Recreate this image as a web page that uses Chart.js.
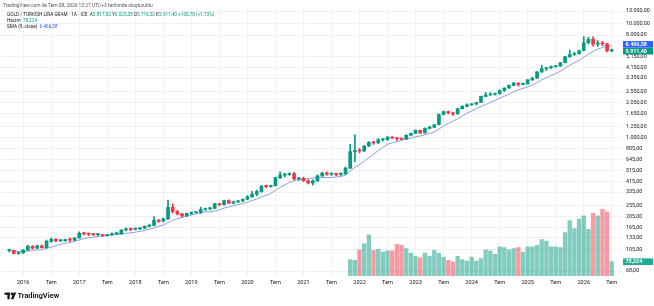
<!DOCTYPE html>
<html lang="tr">
<head>
<meta charset="utf-8">
<script src="https://cdn.jsdelivr.net/npm/chart.js@4.4.1/dist/chart.umd.min.js"></script>
<style>
  html, body { margin: 0; padding: 0; background: #fff; }
  #wrap { width: 654px; height: 306px; }
</style>
</head>
<body>
<div id="wrap"><canvas id="goldChart" width="654" height="306"></canvas></div>
<script>
// GOLD / TRY (gram), aylık mumlar: Eki 2015 -> Tem 2026 (index 0..129)
const opens = [103,103,97,98,104,112,108,113,109,124,129,125,126,128,127,133,146,144,143,142,
  142,139,141,144,144,156,160,158,160,162,168,171,190,186,195,247,226,216,207,218,
  222,222,236,239,241,264,260,283,268,275,280,290,304,322,339,376,374,381,449,473,
  477,487,437,443,422,404,420,465,492,482,484,479,486,545,760,775,769,851,914,905,
  966,970,1018,1000,988,977,1058,1097,1165,1109,1215,1245,1306,1607,1703,1659,1629,1804,1892,1957,
  1993,2050,2316,2382,2409,2453,2612,2744,2897,3026,2956,2987,3230,3345,3807,4070,4146,4227,4295,4568,
  5160,5405,5480,5850,6850,7350,6650,6800,6700,5817.52];
const highs = [106,104,100,105,115,114,115,115,127,133,131,129,130,133,134,150,149,147,146,145,
  143,143,147,149,157,163,162,163,164,170,176,205,193,198,285,265,232,218,220,225,
  226,248,243,247,269,266,285,287,280,283,293,312,340,350,385,386,386,455,505,490,
  495,500,452,455,430,430,476,500,505,492,492,495,555,880,1065,812,860,930,935,990,
  985,1030,1030,1010,1000,1070,1105,1180,1175,1230,1265,1320,1630,1720,1720,1680,1830,1920,1990,2010,
  2060,2330,2520,2500,2480,2640,2760,2920,3080,3040,3030,3250,3420,3830,4330,4150,4300,4330,4600,5200,
  5900,5650,5880,7740,7650,7700,7150,7050,6780,6025.35];
const lows = [100,96,95,97,103,106,107,108,108,122,123,123,124,123,125,132,141,139,140,139,
  137,138,140,142,143,154,154,156,157,160,166,170,182,184,193,220,212,203,205,213,
  219,218,232,235,240,253,258,265,264,272,277,288,302,310,335,365,370,378,440,455,
  470,428,425,415,395,385,415,460,470,470,465,470,477,540,620,740,760,840,880,895,
  940,950,985,950,960,970,1045,1090,1090,1100,1200,1235,1300,1590,1630,1580,1620,1790,1880,1930,
  1950,2045,2300,2360,2380,2420,2560,2720,2880,2850,2920,2980,3200,3330,3770,3900,4050,4180,4250,4550,
  5100,5300,5430,5800,6700,6400,6350,6450,5700,5716.52];
const closes = [103,97,98,104,112,108,113,109,124,129,125,126,128,127,133,146,144,143,142,142,
  139,141,144,144,156,160,158,160,162,168,171,190,186,195,247,226,216,207,218,222,
  222,236,239,241,264,260,283,268,275,280,290,304,322,339,376,374,381,449,473,477,
  487,437,443,422,404,420,465,492,482,484,479,486,545,760,775,769,851,914,905,966,
  970,1018,1000,988,977,1058,1097,1165,1109,1215,1245,1306,1607,1703,1659,1629,1804,1892,1957,1993,
  2050,2316,2382,2409,2453,2612,2744,2897,3026,2956,2987,3230,3345,3807,4070,4146,4227,4295,4568,5160,
  5405,5480,5850,6850,7350,6650,6800,6700,5810.62,5911.40];
// SMA (9, close) çizgisi
const sma = [103,102,101,101,102,103,104,105,107.6,110.4,113.6,116.7,119.3,121,123.8,127.4,131.3,133.4,134.9,136.8,
  138.2,139.7,141.6,142.8,143.9,145.7,147.3,149.3,151.6,154.8,158.1,163.2,167.9,172.2,181.9,189.4,195.7,200.7,206.2,211.9,
  215.4,221,225.9,225.2,229.4,234.3,242.8,248.3,254.2,260.7,266.7,273.9,282.9,291.2,304.1,314.2,326.8,346.1,367.6,388.3,
  408.7,421.4,433,438.1,441.4,445.8,447.6,449.7,450.2,449.9,454.6,459.3,473,512.6,552,585.8,625.7,673.7,720.4,774.6,
  828.3,880.9,907.6,931.2,954.3,977.3,997.7,1026.6,1042.4,1069.7,1094.9,1128.9,1197.7,1278.3,1345.1,1404.2,1475.2,1562.2,1644.7,1727.8,
  1810.4,1889.2,1964.7,2048,2139.6,2229.3,2324,2428.4,2543.2,2643.9,2718.4,2812.7,2916.7,3067.1,3229.1,3384.9,3532.7,3673.7,3852.8,4094.2,
  4335.9,4573.1,4800.1,5109,5465,5734.2,6012.6,6249.4,6380,6466.58];
// Hacim (K), Kas 2021'den itibaren
const volStart = 73;
const volume = [86,83,138,170,217,135,140,126,132,132,167,161,144,121,104,96,121,104,135,121,
  100,83,74,104,86,79,100,79,91,138,132,114,153,149,138,144,149,126,153,153,
  161,191,184,153,153,149,228,291,249,300,316,246,330,316,351,338,75.224];

// eksen etiketleri
const tickMonths = [3,9,15,21,27,33,39,45,51,57,63,69,75,81,87,93,99,105,111,117,123,129];
const tickLabels = ['2016','Tem','2017','Tem','2018','Tem','2019','Tem','2020','Tem','2021','Tem',
  '2022','Tem','2023','Tem','2024','Tem','2025','Tem','2026','Tem'];
const priceTicks = [68,105,133,165,205,255,335,415,515,645,805,1000,1250,1650,2050,2550,3350,4150,5150,8000,10000,13000];

const UP = '#089981', DOWN = '#f23645';
const VOL_UP = 'rgba(8,153,129,0.5)', VOL_DOWN = 'rgba(242,54,69,0.5)';
const GRID = '#eef0f4';
const FONT = 'Roboto, "Liberation Sans", sans-serif';

// price axis geometry: 10.000 sits at y=24, 114 px per decade
const REF_Y = 24, REF_P = 10000, PX_DECADE = 114;
const VOL_PER_PX = 5.26;

function trNum(v, d) {
    const parts = v.toFixed(d).split('.');
    const intPart = parts[0].replace(/\B(?=(\d{3})+(?!\d))/g, '.');
    return parts.length > 1 ? intPart + ',' + parts[1] : intPart;
}

const candleColors = closes.map((c, i) => c >= opens[i] ? UP : DOWN);

// =========================================================
// overlay: üst bilgi, sağ eksen etiketleri, logo
// =========================================================
const overlay = {
    id: 'overlay',
    afterDraw(chart) {
        const c = chart.ctx;
        const area = chart.chartArea;
        const y = chart.scales.y, yv = chart.scales.yVol;
        c.save();
        c.textBaseline = 'middle';

        // header
        c.font = '4.9px ' + FONT;
        c.fillStyle = '#50535e';
        c.fillText('TradingView.com ile Tem 08, 2026 13:27 UTC+3 tarihinde oluşturuldu', 3, 5.5);

        function runs(x, yy, parts) {
            parts.forEach(p => {
                c.fillStyle = p[1];
                c.fillText(p[0], x, yy);
                x += c.measureText(p[0]).width;
            });
        }
        c.font = '4.7px ' + FONT;
        const dark = '#131722';
        runs(7, 15, [
            ['GOLD / TURKISH LIRA GRAM · 1A · ICE  ', dark],
            ['A', dark], ['5.817,52 ', UP],
            ['Y', dark], ['6.025,35 ', UP],
            ['D', dark], ['5.716,52 ', UP],
            ['K', dark], ['5.911,40 ', UP],
            ['+100,78 (+1,73%)', UP]
        ]);
        runs(7, 20.8, [['Hacim  ', dark], ['75,224', UP]]);
        runs(7, 26.6, [['SMA (9, close)  ', dark], ['6.466,58', '#2962ff']]);

        // right axis tags
        const tags = [
            { v: y.getPixelForValue(sma[sma.length - 1]), t: trNum(sma[sma.length - 1], 2), col: '#2962ff' },
            { v: y.getPixelForValue(closes[closes.length - 1]), t: trNum(closes[closes.length - 1], 2), col: UP }
        ];
        if (tags[1].v - tags[0].v < 6.8) {
            const mid = (tags[0].v + tags[1].v) / 2;
            tags[0].v = mid - 3.4; tags[1].v = mid + 3.4;
        }
        tags.push({ v: yv.getPixelForValue(volume[volume.length - 1]), t: '75,224', col: '#22ab94' });
        c.font = 'bold 5.4px ' + FONT;
        tags.forEach(tg => {
            c.fillStyle = tg.col;
            c.fillRect(area.right + 1, tg.v - 3.3, 30, 6.6);
            c.fillStyle = '#fff';
            c.fillText(tg.t, area.right + 3.5, tg.v + 0.2);
        });

        // TradingView logo
        c.fillStyle = '#131722';
        c.fillRect(4.5, 292.6, 5.2, 2.2);
        c.fillRect(7.4, 292.6, 2.3, 6.6);
        c.beginPath();
        c.arc(11.9, 293.9, 1.3, 0, Math.PI * 2);
        c.fill();
        c.beginPath();
        c.moveTo(13.6, 292.6); c.lineTo(16.2, 292.6); c.lineTo(13.4, 299.2); c.lineTo(10.8, 299.2);
        c.closePath();
        c.fill();
        let fs = 9;
        c.font = 'bold ' + fs + 'px ' + FONT;
        while (c.measureText('TradingView').width > 42 && fs > 5) {
            fs -= 0.2;
            c.font = 'bold ' + fs + 'px ' + FONT;
        }
        c.fillText('TradingView', 17.5, 296.2);
        c.restore();
    }
};

const chart = new Chart(document.getElementById('goldChart'), {
    type: 'bar',
    data: {
        datasets: [
            {
                type: 'bar',
                label: 'Hacim',
                yAxisID: 'yVol',
                data: volume.map((v, k) => ({ x: volStart + k, y: v })),
                backgroundColor: volume.map((v, k) => closes[volStart + k] >= opens[volStart + k] ? VOL_UP : VOL_DOWN),
                barThickness: 3.7,
                grouped: false,
                order: 4,
            },
            {
                type: 'line',
                label: 'SMA (9, close)',
                yAxisID: 'y',
                data: sma.map((v, i) => ({ x: i, y: v })),
                borderColor: '#8c9fdc',
                borderWidth: 1,
                pointRadius: 0,
                tension: 0,
                order: 3,
            },
            {
                type: 'bar',
                label: 'fitil',
                yAxisID: 'y',
                data: highs.map((h, i) => ({ x: i, y: [lows[i], h] })),
                backgroundColor: candleColors,
                barThickness: 1,
                grouped: false,
                order: 2,
            },
            {
                type: 'bar',
                label: 'gövde',
                yAxisID: 'y',
                data: opens.map((o, i) => ({ x: i, y: [o, closes[i]] })),
                backgroundColor: candleColors,
                barThickness: 3,
                minBarLength: 1,
                grouped: false,
                order: 1,
            }
        ]
    },
    options: {
        responsive: false,
        animation: false,
        events: [],
        layout: { padding: 0 },
        plugins: {
            legend: { display: false },
            tooltip: { enabled: false },
        },
        scales: {
            x: {
                type: 'linear',
                min: -1.86,
                max: 131.19,
                offset: false,
                afterBuildTicks: s => { s.ticks = tickMonths.map(v => ({ value: v })); },
                afterFit: s => { s.height = 30; },
                grid: { color: GRID, drawTicks: false, offset: false },
                border: { display: false },
                ticks: {
                    autoSkip: false,
                    maxRotation: 0,
                    padding: 3.5,
                    color: '#131722',
                    font: { family: FONT, size: 5.6 },
                    callback: (v, idx) => tickLabels[idx],
                }
            },
            y: {
                type: 'logarithmic',
                position: 'right',
                min: 61.6,
                max: 16244,
                afterBuildTicks: s => { s.ticks = priceTicks.map(v => ({ value: v })); },
                afterFit: s => { s.width = 32; },
                grid: { color: GRID, drawTicks: false },
                border: { display: false },
                ticks: {
                    autoSkip: false,
                    padding: 4,
                    color: '#131722',
                    font: { family: FONT, size: 5.4 },
                    callback: v => trNum(v, 2),
                }
            },
            yVol: {
                type: 'linear',
                display: false,
                min: 0,
                max: 1410,
            }
        }
    },
    plugins: [overlay]
});

// fit the log range to the real plot box so the price grid lands where TradingView put it
const area = chart.chartArea;
chart.options.scales.y.min = REF_P / Math.pow(10, (area.bottom - REF_Y) / PX_DECADE);
chart.options.scales.y.max = REF_P * Math.pow(10, (REF_Y - area.top) / PX_DECADE);
chart.options.scales.yVol.max = VOL_PER_PX * (area.bottom - area.top);
chart.update();
</script>
</body>
</html>
